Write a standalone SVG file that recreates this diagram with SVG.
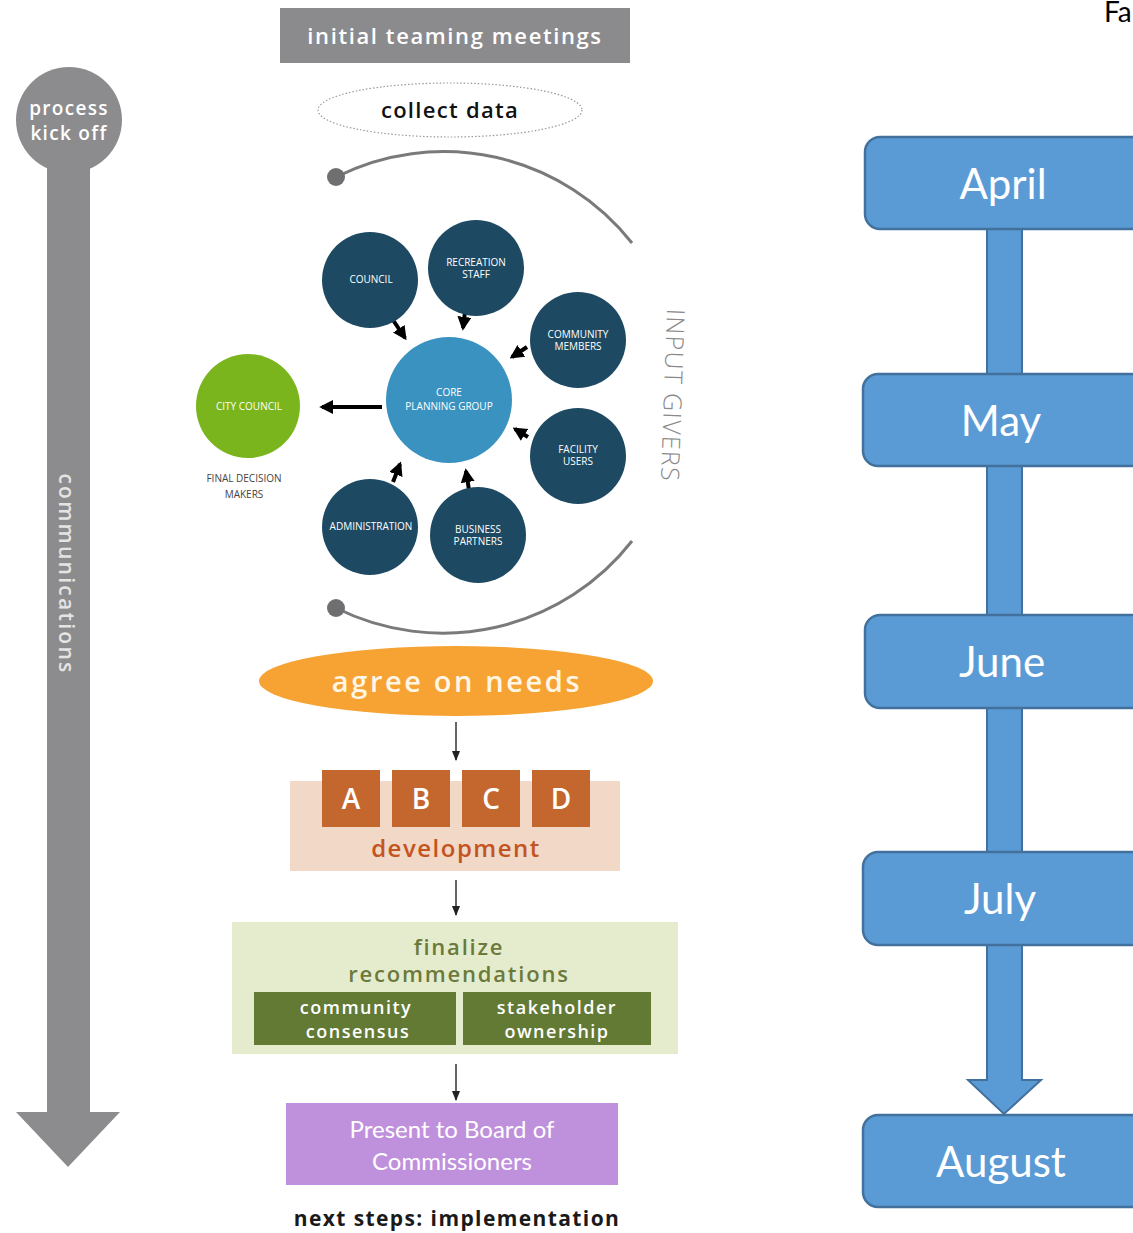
<svg xmlns="http://www.w3.org/2000/svg" width="1133" height="1233" viewBox="0 0 1133 1233">
<defs>
<style>
.sans{font-family:Lato,"Open Sans","Liberation Sans",sans-serif}
.hum{font-family:"Open Sans","Noto Sans","Liberation Sans",sans-serif}
.cal{font-family:Lato,"Open Sans","Liberation Sans",sans-serif}
.dark{fill:#1d4a62}
.lbl{fill:#ffffff;font-size:10px;text-anchor:middle;font-family:"Open Sans","Liberation Sans",sans-serif}
.month{fill:#5b9bd5;stroke:#41719c;stroke-width:2.5}
.mtxt{fill:#ffffff;font-size:42px;text-anchor:middle;font-family:Lato,"Open Sans","Liberation Sans",sans-serif}
.arr{stroke:#000;stroke-width:4;fill:none;marker-end:url(#bh)}
.thin{stroke:#333;stroke-width:1.5;fill:none;marker-end:url(#sh)}
</style>
<marker id="bh" viewBox="0 0 10 10" refX="8" refY="5" markerWidth="3.5" markerHeight="3.5" orient="auto" markerUnits="strokeWidth">
<path d="M0,0 L10,5 L0,10 Z" fill="#000"/>
</marker>
<marker id="sh" viewBox="0 0 10 10" refX="9" refY="5" markerWidth="7" markerHeight="7" orient="auto" markerUnits="strokeWidth">
<path d="M0,1 L10,5 L0,9 Z" fill="#222"/>
</marker>
</defs>
<rect width="1133" height="1233" fill="#ffffff"/>

<!-- left communications bar -->
<g id="communications">
<circle cx="69" cy="120" r="53" fill="#8c8c8e"/>
<rect x="47" y="150" width="43" height="965" fill="#8c8c8e"/>
<path d="M16,1112 L120,1112 L68,1167 Z" fill="#8c8c8e"/>
<text class="hum" x="69" y="115" font-size="19" fill="#ffffff" text-anchor="middle" font-weight="600" letter-spacing="1.3">process</text>
<text class="hum" x="69" y="140" font-size="19" fill="#ffffff" text-anchor="middle" font-weight="600" letter-spacing="1.3">kick off</text>
<text class="hum" transform="translate(59,574) rotate(90)" font-size="21" fill="#e4e4e4" text-anchor="middle" font-weight="600" letter-spacing="2.3">communications</text>
</g>

<g id="initial-teaming">
<rect x="280" y="8" width="350" height="55" fill="#8b8b8d"/>
<text class="hum" x="455" y="44" font-size="22" fill="#ffffff" text-anchor="middle" font-weight="600" letter-spacing="1.6">initial teaming meetings</text>
</g>

<g id="collect-data">
<ellipse cx="450" cy="110" rx="132" ry="27" fill="none" stroke="#999" stroke-width="1.2" stroke-dasharray="1.5,2"/>
<text class="hum" x="450" y="118" font-size="22" fill="#111" text-anchor="middle" font-weight="600" letter-spacing="1.3">collect data</text>
</g>

<!-- input givers arcs -->
<g id="input-givers-arc">
<path d="M336,177 A240,240 0 0 1 632,243" fill="none" stroke="#7a7a7a" stroke-width="3"/>
<path d="M336,608 A240,240 0 0 0 632,541" fill="none" stroke="#7a7a7a" stroke-width="3"/>
<circle cx="336" cy="177" r="9" fill="#6f6f72"/>
<circle cx="336" cy="608" r="9" fill="#6f6f72"/>
<text transform="translate(664,395) rotate(92)" font-family="'Open Sans','Liberation Sans',sans-serif" font-size="25" fill="#8a8a8a" text-anchor="middle" font-weight="300" letter-spacing="1.3">INPUT GIVERS</text>
</g>

<!-- connectors -->
<g id="connectors">
<line class="arr" x1="393" y1="320" x2="405" y2="338"/>
<line class="arr" x1="465" y1="312" x2="463" y2="328"/>
<line class="arr" x1="527" y1="347" x2="512" y2="357"/>
<line class="arr" x1="528" y1="437" x2="515" y2="429"/>
<line class="arr" x1="469" y1="490" x2="466" y2="471"/>
<line class="arr" x1="393" y1="482" x2="400" y2="464"/>
<line class="arr" x1="382" y1="407" x2="322" y2="407"/>
<line class="thin" x1="456" y1="722" x2="456" y2="760"/>
<line class="thin" x1="456" y1="880" x2="456" y2="915"/>
<line class="thin" x1="456" y1="1064" x2="456" y2="1100"/>
<g fill="#5b9bd5" stroke="#41719c" stroke-width="2">
<rect x="987" y="229" width="35" height="146"/>
<rect x="987" y="466" width="35" height="150"/>
<rect x="987" y="708" width="35" height="145"/>
<path d="M987,945 L1022,945 L1022,1080 L1041,1080 L1004,1114 L968,1080 L987,1080 Z"/>
</g>
</g>

<!-- circles -->
<g id="core-planning-group">
<circle cx="449" cy="400" r="63" fill="#3a92c0"/>
<text class="lbl" x="449" y="396" fill="#d8eef8">CORE</text>
<text class="lbl" x="449" y="410">PLANNING GROUP</text>
</g>
<g id="council">
<circle class="dark" cx="370" cy="280" r="48"/>
<text class="lbl" x="371" y="283">COUNCIL</text>
</g>
<g id="recreation-staff">
<circle class="dark" cx="476" cy="268" r="48"/>
<text class="lbl" x="476" y="266" font-size="9">RECREATION</text>
<text class="lbl" x="476" y="278" font-size="9">STAFF</text>
</g>
<g id="community-members">
<circle class="dark" cx="578" cy="340" r="48"/>
<text class="lbl" x="578" y="338" font-size="9">COMMUNITY</text>
<text class="lbl" x="578" y="350" font-size="9">MEMBERS</text>
</g>
<g id="facility-users">
<circle class="dark" cx="578" cy="456" r="48"/>
<text class="lbl" x="578" y="453" font-size="9">FACILITY</text>
<text class="lbl" x="578" y="465" font-size="9">USERS</text>
</g>
<g id="business-partners">
<circle class="dark" cx="478" cy="535" r="48"/>
<text class="lbl" x="478" y="533" font-size="9">BUSINESS</text>
<text class="lbl" x="478" y="545" font-size="9">PARTNERS</text>
</g>
<g id="administration">
<circle class="dark" cx="370" cy="527" r="48"/>
<text class="lbl" x="371" y="530" font-size="9.5">ADMINISTRATION</text>
</g>
<g id="city-council">
<circle cx="248" cy="406" r="52" fill="#7ab51d"/>
<text class="lbl" x="249" y="410" font-size="9.5" fill="#e8f5cf">CITY COUNCIL</text>
<text x="244" y="482" font-family="'Open Sans','Liberation Sans',sans-serif" font-size="10" fill="#444" text-anchor="middle">FINAL DECISION</text>
<text x="244" y="498" font-family="'Open Sans','Liberation Sans',sans-serif" font-size="10" fill="#444" text-anchor="middle">MAKERS</text>
</g>

<g id="agree-on-needs">
<ellipse cx="456" cy="681" rx="197" ry="35" fill="#f7a334"/>
<text class="hum" x="457" y="692" font-size="29" fill="#fff6e6" text-anchor="middle" font-weight="600" letter-spacing="2.6">agree on needs</text>
</g>

<g id="development">
<rect x="290" y="781" width="330" height="90" fill="#f1d8c7"/>
<g fill="#c4672f">
<rect x="322" y="770" width="58" height="57"/>
<rect x="392" y="770" width="58" height="57"/>
<rect x="462" y="770" width="58" height="57"/>
<rect x="532" y="770" width="58" height="57"/>
</g>
<g class="hum" font-size="28" fill="#ffffff" text-anchor="middle" font-weight="600">
<text x="351" y="809">A</text>
<text x="421" y="809">B</text>
<text x="491" y="809">C</text>
<text x="561" y="809">D</text>
</g>
<text class="hum" x="456" y="857" font-size="24" fill="#c4541f" text-anchor="middle" font-weight="600" letter-spacing="1.5">development</text>
</g>

<g id="finalize-recommendations">
<rect x="232" y="922" width="446" height="132" fill="#e5ecce"/>
<text class="hum" x="459" y="955" font-size="22" fill="#6b7a3b" text-anchor="middle" font-weight="600" letter-spacing="1.8">finalize</text>
<text class="hum" x="459" y="982" font-size="22" fill="#6b7a3b" text-anchor="middle" font-weight="600" letter-spacing="1.8">recommendations</text>
</g>
<g id="community-consensus">
<rect x="254" y="992" width="202" height="53" fill="#627a34"/>
<text class="hum" x="356" y="1014" font-size="18" fill="#ffffff" text-anchor="middle" font-weight="600" letter-spacing="1.5">community</text>
<text class="hum" x="358" y="1038" font-size="18" fill="#ffffff" text-anchor="middle" font-weight="600" letter-spacing="1.5">consensus</text>
</g>
<g id="stakeholder-ownership">
<rect x="463" y="992" width="188" height="53" fill="#627a34"/>
<text class="hum" x="557" y="1014" font-size="18" fill="#ffffff" text-anchor="middle" font-weight="600" letter-spacing="1.5">stakeholder</text>
<text class="hum" x="557" y="1038" font-size="18" fill="#ffffff" text-anchor="middle" font-weight="600" letter-spacing="1.5">ownership</text>
</g>

<g id="present-to-board">
<rect x="286" y="1103" width="332" height="82" fill="#bf91dc"/>
<text class="cal" x="452" y="1138" font-size="24" fill="#ffffff" text-anchor="middle">Present to Board of</text>
<text class="cal" x="452" y="1170" font-size="24" fill="#ffffff" text-anchor="middle">Commissioners</text>
</g>

<g id="next-steps">
<text class="hum" x="457" y="1226" font-size="21" fill="#1a1a1a" text-anchor="middle" font-weight="700" letter-spacing="1.4">next steps: implementation</text>
</g>

<!-- right timeline -->
<g id="title-fragment">
<text x="1104" y="22" font-family="Lato,'Open Sans','Liberation Sans',sans-serif" font-size="28" fill="#000">Fa</text>
</g>
<g id="april">
<rect class="month" x="865" y="137" width="290" height="92" rx="15"/>
<text class="mtxt" x="1003" y="199">April</text>
</g>
<g id="may">
<rect class="month" x="863" y="374" width="290" height="92" rx="15"/>
<text class="mtxt" x="1001" y="436">May</text>
</g>
<g id="june">
<rect class="month" x="865" y="615" width="290" height="93" rx="15"/>
<text class="mtxt" x="1002" y="677">June</text>
</g>
<g id="july">
<rect class="month" x="863" y="852" width="290" height="93" rx="15"/>
<text class="mtxt" x="1000" y="914">July</text>
</g>
<g id="august">
<rect class="month" x="863" y="1115" width="290" height="92" rx="15"/>
<text class="mtxt" x="1001" y="1177">August</text>
</g>
</svg>
